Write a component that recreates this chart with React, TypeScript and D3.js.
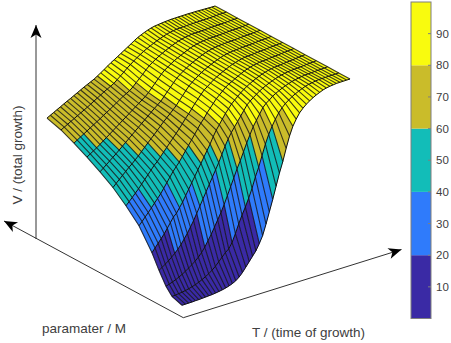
import React from 'react';
import * as d3 from 'd3';

// V at each T column (51 columns), one array per M row
const m00 = [1,1,1,1,1.1,1.1,1.2,1.3,1.4,1.5,1.7,2,2.3,2.7,3.3,4,5,6.5,8.5,11,13.5,16,18.5,22,26,32,38.5,45,52,59,65,72,78.5,83.5,87,90,92,93.7,95,96.2,97.2,98,98.8,99.3,99.6,99.8,100,100,100,100,100];
const m01 = [3,3.1,3.3,3.5,3.8,4.2,4.7,5.3,6,6.9,7.9,9,10.4,12,14,16,18,19.5,22.5,27,32,36.5,40.5,45,50,56,61,67,73,78,82,85.5,88.5,90.8,92.6,94,95.3,96.3,97.2,98,98.7,99.2,99.5,99.8,100,100,100,100,100,100,100];
const m02 = [7,7.5,8.1,8.8,9.6,10.5,11.6,12.8,14,15.4,17,19,21.5,24.5,27.5,31,34.5,38,42,46.5,51,55.5,60,64,68.5,73,77,81,84,87,90,91.8,93,94.5,95.5,96.4,97.2,97.9,98.5,99,99.3,99.6,99.8,100,100,100,100,100,100,100,100];
const m03 = [14,15,16.2,17.4,18.8,20.3,22,24,26.5,29,32,35,38.5,42,45.5,49,52.5,56,59.5,63,67,71,74.5,77.5,80,82.5,85,87.5,90,91.5,92.8,94,95.2,96.1,96.9,97.6,98.2,98.8,99.2,99.5,99.8,100,100,100,100,100,100,100,100,100,100];
const m04 = [22,24,26,28,30,32.5,35,37.5,39,41.5,44,47,50,53,56,59,62,65,68,71,74.5,77.5,80,82.5,85,87,89,90.5,92,93.3,94.5,95.5,96.4,97.2,97.9,98.5,99,99.4,99.7,99.9,100,100,100,100,100,100,100,100,100,100,100];
const m05 = [33.5,35.3,37.2,39,41,43,45,47,49.5,52,54.5,57,59,61,63.5,66,68.5,71,73.5,76,78.5,80.5,83,85,87,89,90.5,92,93.5,94.6,95.3,96.2,97,97.8,98.5,99,99.4,99.7,99.9,100,100,100,100,100,100,100,100,100,100,100,100];
const m06 = [41,42.7,44.4,46.2,48,50,52,54,56,58,59.5,61.5,63.5,65.5,67.5,69.5,71.5,73.5,75.7,78,80,82.2,84.5,86.5,88.5,90.3,91.5,92.8,94,95,95.9,96.7,97.4,98.1,98.7,99.1,99.5,99.8,100,100,100,100,100,100,100,100,100,100,100,100,100];
const m07 = [47.5,49.2,50.8,52.4,54,55.6,57,58.6,60.2,62,63.8,65.6,67.3,69,70.8,72.6,74.4,76,77.6,79.3,81,83.2,85.3,87.4,89.5,90.9,92.2,93.4,94.5,95.5,96.3,97.1,97.8,98.4,99,99.4,99.7,99.9,100,100,100,100,100,100,100,100,100,100,100,100,100];
const m08 = [52.5,53.9,55.3,56.7,58.1,59.5,61,62.5,64,65.5,67,68.5,70,71.5,73,74.5,76,77.5,78.9,80.3,82.3,84.3,86.3,88.3,90.2,91.6,92.8,94,95,95.9,96.7,97.5,98.2,98.8,99.2,99.6,99.8,100,100,100,100,100,100,100,100,100,100,100,100,100,100];
const m09 = [57,58.1,59.2,60.3,61.6,62.9,64.2,65.5,66.8,68.1,69.4,70.7,72,73.3,74.6,75.9,77.2,78.5,79.8,81.4,83.4,85.4,87.4,89.4,91,92.2,93.4,94.5,95.4,96.2,97,97.8,98.5,99,99.4,99.7,99.9,100,100,100,100,100,100,100,100,100,100,100,100,100,100];
const m10 = [61,62.1,63.2,64.3,65.4,66.5,67.6,68.7,69.8,71,72.1,73.2,74.4,75.6,76.8,78,79,80,81.5,83.3,85,86.8,88.7,90.4,91.7,92.9,94,95,95.9,96.7,97.5,98.2,98.8,99.2,99.6,99.8,100,100,100,100,100,100,100,100,100,100,100,100,100,100,100];
const m11 = [64.5,65.5,66.5,67.5,68.5,69.5,70.5,71.5,72.5,73.6,74.7,75.8,76.9,78,79,80,81,82.5,84,85.5,87.2,88.6,90,91.3,92.5,93.6,94.6,95.5,96.3,97.1,97.8,98.4,99,99.4,99.7,99.9,100,100,100,100,100,100,100,100,100,100,100,100,100,100,100];
const m12 = [67,68,69,70,71,72,73,73.9,74.9,75.9,76.9,77.9,78.8,79.7,80.6,81.8,83,84.3,85.6,86.9,88,89.2,90.4,91.6,92.8,94,95.3,96.4,97.3,98.1,98.8,99.4,99.8,100,100.2,100.4,100.5,100.6,100.6,100.6,100.6,100.6,100.6,100.5,100.5,100.4,100.3,100.2,100.1,100,100];
const rows = [m00, m01, m02, m03, m04, m05, m06, m07, m08, m09, m10, m11, m12];

// where each M row sits along the M axis, at T = 0 and at T = max
const mAtStart = [0, 10, 16, 23, 30, 43, 56, 69, 82, 95, 108, 121, 135];
const mAtEnd = [0, 11.25, 22.5, 33.75, 45, 56.25, 67.5, 78.75, 90, 101.25, 112.5, 123.75, 135];

const levels = [20, 40, 60, 80];
const levelColors = ['#3a2aa5', '#2f7bfb', '#12bdb8', '#cabc2a', '#f9fb0e'];
const barEdges = [0, 20, 40, 60, 80, 100];
const barTicks = [10, 20, 30, 40, 50, 60, 70, 80, 90];

const color = d3.scaleThreshold<number, string>().domain(levels).range(levelColors);

const lastCol = m00.length - 1;

// projection: x from T and M, y from T, M and V
const tX = d3.scaleLinear().domain([0, lastCol]).range([0, 168]);
const tY = d3.scaleLinear().domain([0, lastCol]).range([0, -55]);
const vY = d3.scaleLinear().domain([0, 100]).range([0, -173]);
const barY = d3.scaleLinear().domain([0, 100]).range([318.5, 2]);

const pt = (r: number, c: number): [number, number] => {
  const f = c / lastCol;
  const m = (mAtStart[r] * (1 - f) + mAtEnd[r] * f) / 135;
  return [182 + tX(c) - 135 * m, 307 + tY(c) - 73 * m + vY(rows[r][c])];
};

const line = d3.line();
const rowIdx = d3.range(rows.length);
const colIdx = d3.range(m00.length);

const Arrow = ({ x1, y1, x2, y2 }: { x1: number; y1: number; x2: number; y2: number }) => {
  const deg = (Math.atan2(y2 - y1, x2 - x1) * 180) / Math.PI;
  return (
    <g>
      <line x1={x1} y1={y1} x2={x2} y2={y2} stroke="#333" strokeWidth={1} />
      <path d="M0,0L-13,-5.5L-9.5,0L-13,5.5Z" fill="#000" transform={`translate(${x2},${y2}) rotate(${deg})`} />
    </g>
  );
};

export default function App() {
  const cells = [];
  for (let r = rows.length - 2; r >= 0; r--) {
    for (let c = lastCol - 1; c >= 0; c--) {
      const d = line([pt(r, c), pt(r, c + 1), pt(r + 1, c + 1), pt(r + 1, c)]) + 'Z';
      cells.push(<path key={`${r}-${c}`} d={d} fill={color(rows[r][c])} stroke={color(rows[r][c])} strokeWidth={0.4} />);
    }
  }
  return (
    <svg width={451} height={343} style={{ position: 'fixed', left: 0, top: 0 }} fontFamily="'Liberation Sans', Arial, sans-serif">
      <rect width={451} height={343} fill="#fff" />
      <Arrow x1={36} y1={239} x2={36} y2={25} />
      <Arrow x1={183.3} y1={317.7} x2={4} y2={221} />
      <Arrow x1={183.3} y1={317.7} x2={401.5} y2={249.5} />

      {cells}
      {colIdx.map(c => (
        <path key={c} d={line(rowIdx.map(r => pt(r, c))) as string} fill="none" stroke="#111" strokeWidth={1.1} strokeOpacity={0.8} />
      ))}
      {rowIdx.map(r => (
        <path key={r} d={line(colIdx.map(c => pt(r, c))) as string} fill="none" stroke="#111" strokeWidth={1} />
      ))}

      <text transform="translate(22,155) rotate(-90)" textAnchor="middle" fontSize={13.5} fill="#404040">V / (total growth)</text>
      <text x={42} y={333} fontSize={13.5} fill="#404040">paramater / M</text>
      <text x={252} y={337} fontSize={13.5} fill="#404040">T / (time of growth)</text>

      {levelColors.map((col, i) => (
        <rect key={col} x={411} width={20} y={barY(barEdges[i + 1])} height={barY(barEdges[i]) - barY(barEdges[i + 1])} fill={col} />
      ))}
      <rect x={411} y={barY(100)} width={20} height={barY(0) - barY(100)} fill="none" stroke="#7f7f7f" strokeWidth={1} />
      {barTicks.map(t => (
        <g key={t}>
          <line x1={428} x2={431} y1={barY(t)} y2={barY(t)} stroke="#7f7f7f" />
          <text x={436} y={barY(t) + 4} fontSize={11.5} fill="#404040">{t}</text>
        </g>
      ))}
    </svg>
  );
}
